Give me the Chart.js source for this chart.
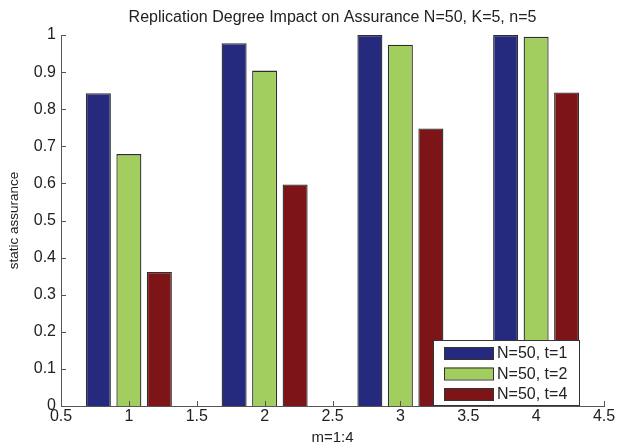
<!DOCTYPE html>
<html>
<head>
<meta charset="utf-8">
<script src="https://cdn.jsdelivr.net/npm/chart.js@4.4.1/dist/chart.umd.min.js"></script>
<style>
  html, body { margin: 0; padding: 0; background: #fff; }
  #wrap { width: 617px; height: 443px; }
</style>
</head>
<body>
<div id="wrap"><canvas id="myChart" width="617" height="443"></canvas></div>
<script>
const categorias = ["1", "2", "3", "4"];
const serieT1 = [0.843, 0.978, 1.0, 1.0];
const serieT2 = [0.679, 0.904, 0.974, 0.995];
const serieT4 = [0.361, 0.597, 0.748, 0.845];
const etiquetas = ["N=50, t=1", "N=50, t=2", "N=50, t=4"];

const fuente = "'Liberation Sans', Arial, sans-serif";
const colorTexto = "#222";
const numero = (v) => String(+Number(v).toFixed(2));

// leyenda dentro del area de graficado, abajo a la derecha (estilo MATLAB)
const leyendaInterna = {
    id: "leyendaInterna",
    afterDraw(chart) {
        const { ctx, chartArea } = chart;
        const w = 146, h = 65;
        const x0 = chartArea.right - 25 - w;
        const y0 = chartArea.bottom - 1 - h;
        ctx.save();
        ctx.fillStyle = "#fff";
        ctx.fillRect(x0, y0, w, h);
        ctx.strokeStyle = "#333";
        ctx.lineWidth = 1;
        ctx.strokeRect(x0 + 0.5, y0 + 0.5, w, h);
        ctx.font = "16px " + fuente;
        ctx.textBaseline = "middle";
        chart.data.datasets.forEach((ds, i) => {
            const cy = y0 + 13 + i * 20.5;
            ctx.fillStyle = ds.backgroundColor;
            ctx.fillRect(x0 + 11, cy - 6, 49, 12);
            ctx.strokeStyle = "#333";
            ctx.strokeRect(x0 + 11.5, cy - 5.5, 49, 12);
            ctx.fillStyle = colorTexto;
            ctx.fillText(ds.label, x0 + 64, cy + 1);
        });
        ctx.restore();
    },
};

// marcas de los ejes hacia adentro
const marcasInternas = {
    id: "marcasInternas",
    afterDatasetsDraw(chart) {
        const { ctx, chartArea, scales } = chart;
        ctx.save();
        ctx.strokeStyle = "#555";
        ctx.lineWidth = 1;
        ctx.beginPath();
        scales.y.ticks.forEach((t) => {
            const py = Math.round(scales.y.getPixelForValue(t.value)) + 0.5;
            ctx.moveTo(chartArea.left, py);
            ctx.lineTo(chartArea.left + 5, py);
        });
        scales.xTicks.ticks.forEach((t) => {
            const px = Math.round(scales.xTicks.getPixelForValue(t.value)) + 0.5;
            ctx.moveTo(px, chartArea.bottom);
            ctx.lineTo(px, chartArea.bottom - 5);
        });
        ctx.stroke();
        ctx.restore();
    },
};

const ctx = document.getElementById("myChart");
new Chart(ctx, {
    type: "bar",
    data: {
        labels: categorias,
        datasets: [
            { label: etiquetas[0], data: serieT1, backgroundColor: "rgb(38, 42, 126)" },
            { label: etiquetas[1], data: serieT2, backgroundColor: "rgb(162, 205, 95)" },
            { label: etiquetas[2], data: serieT4, backgroundColor: "rgb(125, 20, 23)" },
        ].map((d) => ({
            ...d,
            borderColor: "#2e2e2e",
            borderWidth: 1.3,
            categoryPercentage: 0.674,
            barPercentage: 0.82,
        })),
    },
    options: {
        responsive: false,
        animation: false,
        layout: { padding: { left: 0, right: 13, top: 0, bottom: 0 } },
        plugins: {
            legend: { display: false },
            tooltip: { enabled: false },
            title: {
                display: true,
                fullSize: false,
                text: "Replication Degree Impact on Assurance N=50, K=5, n=5",
                color: colorTexto,
                font: { family: fuente, size: 16, weight: "normal" },
                padding: { top: 8, bottom: 7.8 },
            },
        },
        scales: {
            x: { type: "category", display: false, offset: true },
            xTicks: {
                type: "linear",
                position: "bottom",
                offset: false,
                min: 0.5,
                max: 4.5,
                ticks: { stepSize: 0.5, color: colorTexto, padding: 1, callback: numero, font: { family: fuente, size: 16 } },
                grid: { display: false, drawTicks: false, offset: false },
                border: { display: true, color: "#555" },
                title: { display: true, text: "m=1:4", color: colorTexto, padding: { top: 0, bottom: -2 }, font: { family: fuente, size: 15, lineHeight: 1 } },
                afterFit: (s) => { s.height = 37; },
            },
            y: {
                min: 0,
                max: 1,
                ticks: { stepSize: 0.1, color: colorTexto, padding: 5, callback: numero, font: { family: fuente, size: 16 } },
                grid: { display: false, drawTicks: false },
                border: { display: true, color: "#555" },
                title: { display: true, text: "static assurance", color: colorTexto, padding: { top: 6, bottom: 0 }, font: { family: fuente, size: 13.5 } },
                afterFit: (s) => { s.width = 61; },
            },
        },
    },
    plugins: [marcasInternas, leyendaInterna],
});
</script>
</body>
</html>
